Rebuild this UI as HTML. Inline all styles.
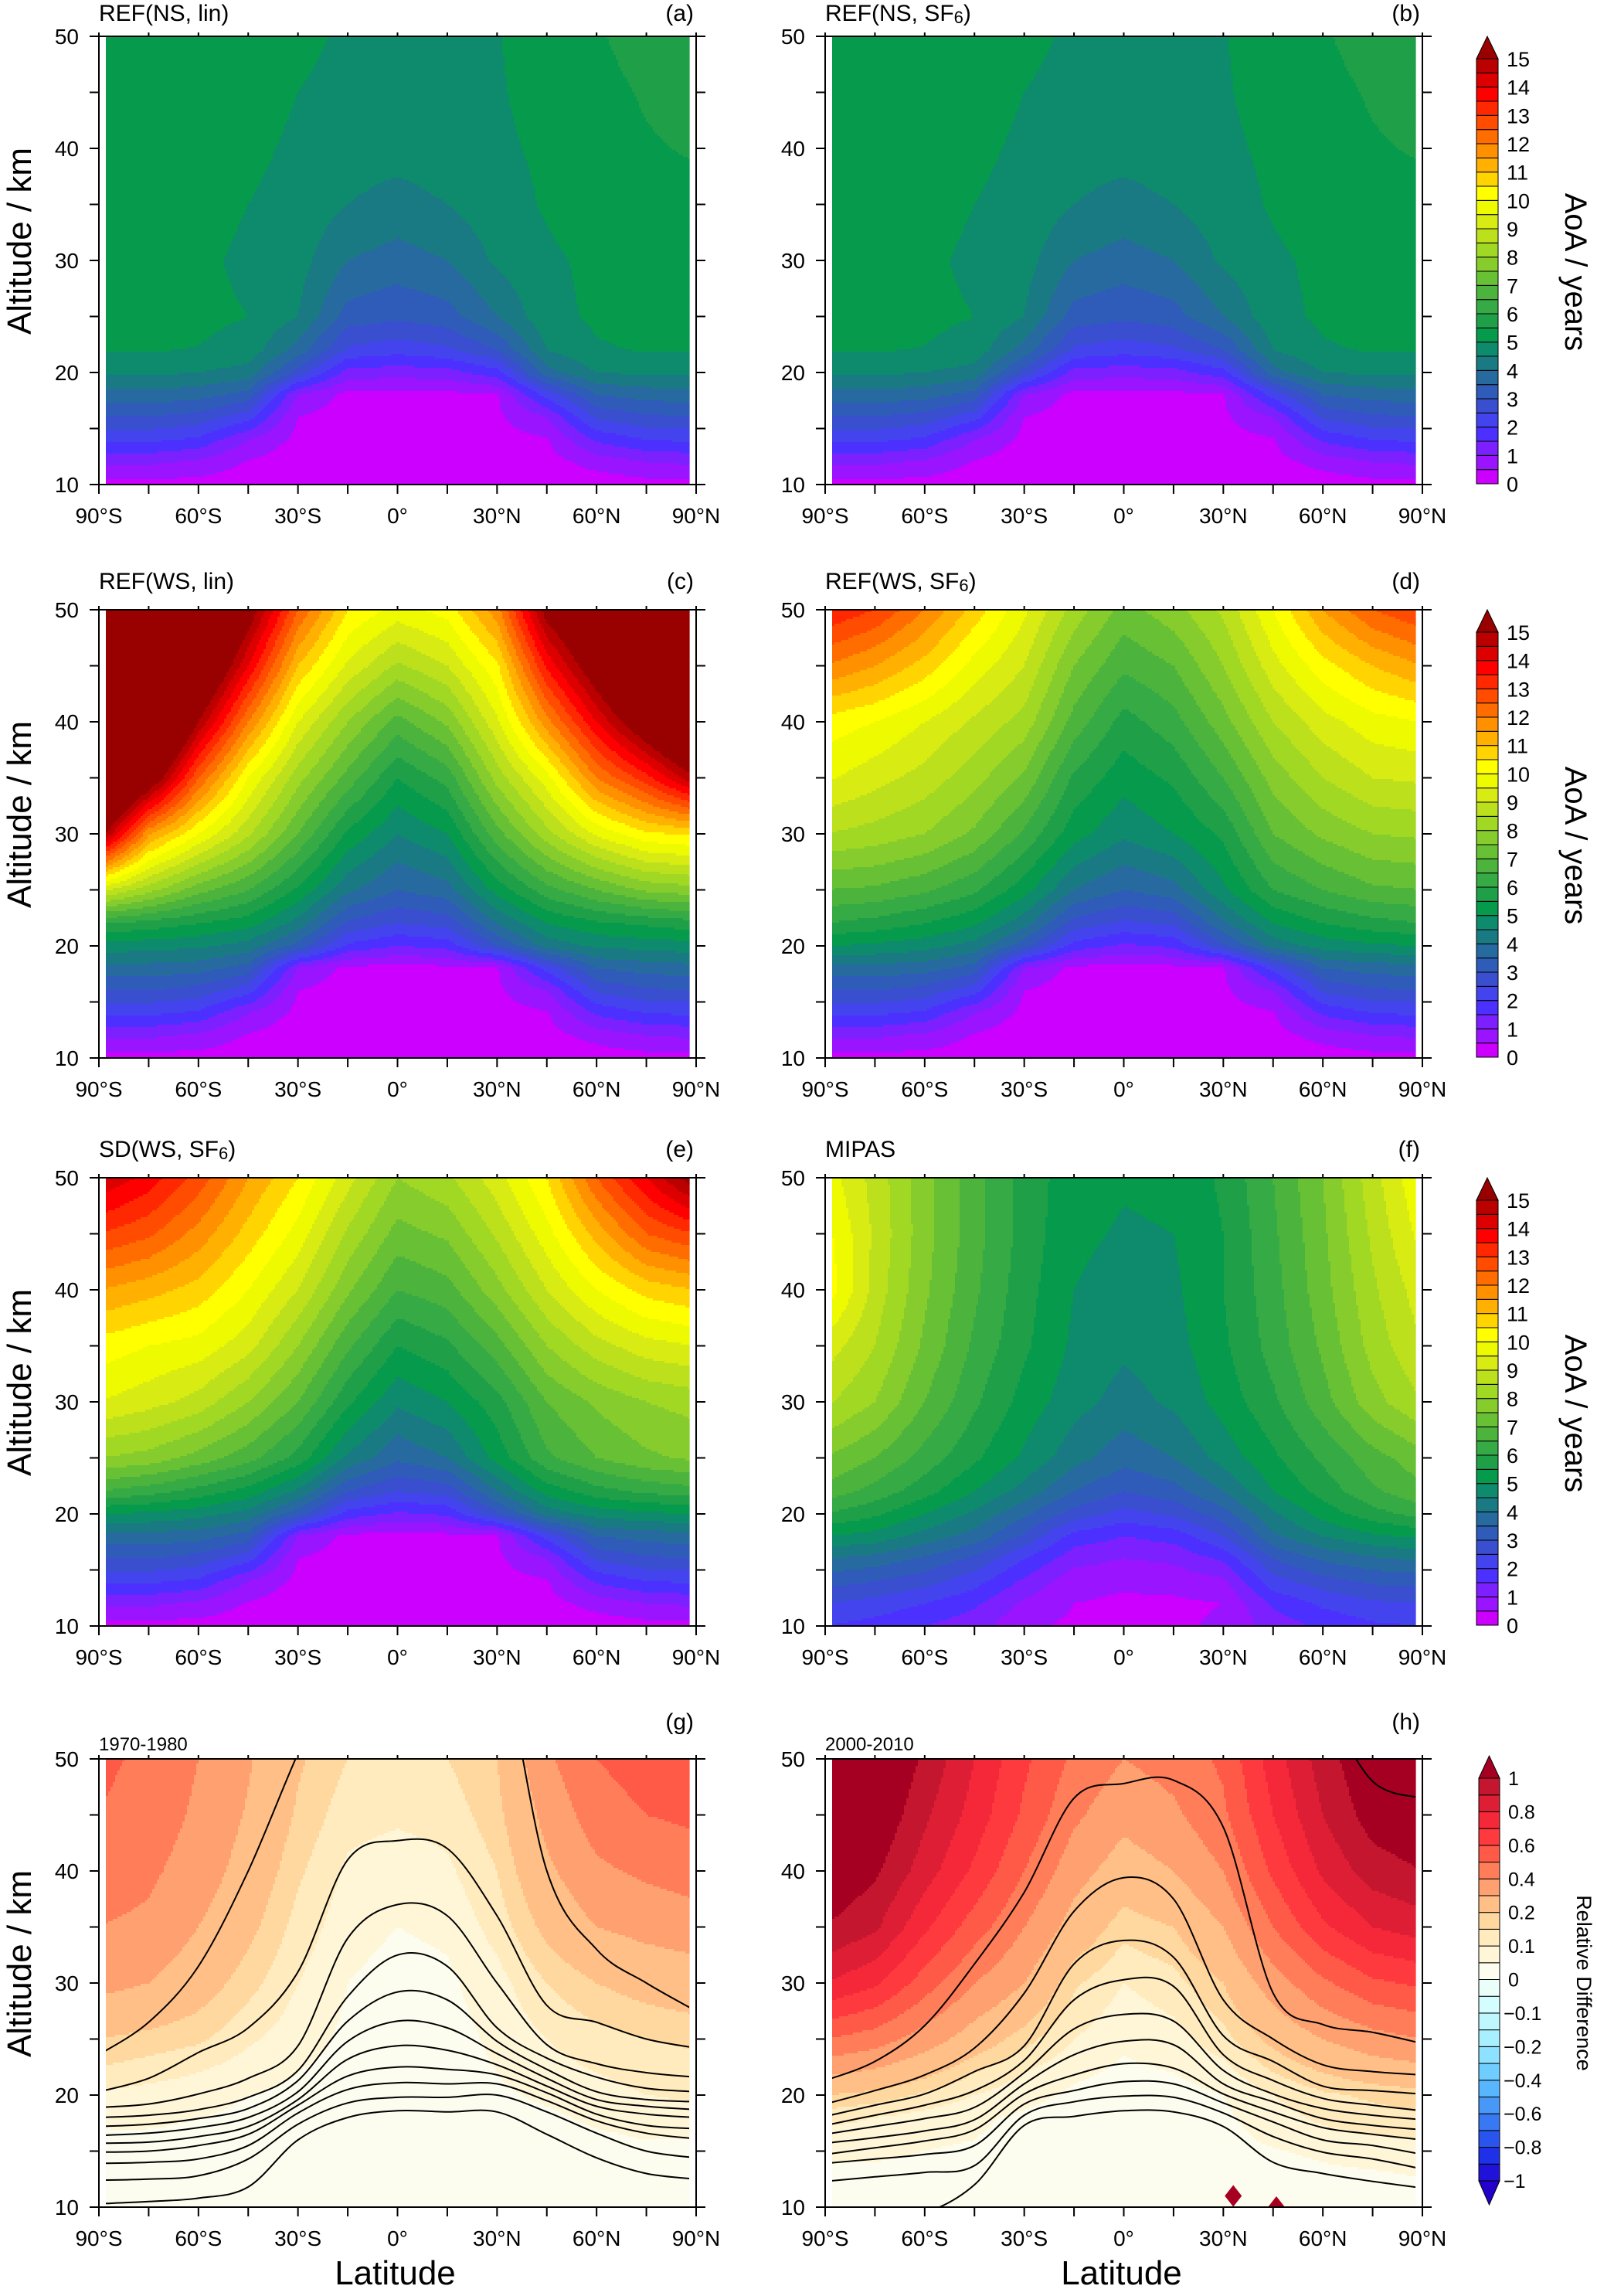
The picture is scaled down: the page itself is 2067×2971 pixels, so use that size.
<!DOCTYPE html>
<html><head><meta charset="utf-8"><style>
body{margin:0;background:#fff;}
svg text{font-family:"Liberation Sans",sans-serif;fill:#000;}
</style></head><body>
<svg id="fig" width="2067" height="2966" xmlns="http://www.w3.org/2000/svg">
<defs id="defs"></defs>
</svg>
<script>
// ---------- data ----------
const lats=[-90,-75,-60,-45,-30,-15,0,15,30,45,60,75,90];
const alts=[10,12,14,16,18,20,22,25,30,35,40,45,50];
const latTickLabels=['90°S','60°S','30°S','0°','30°N','60°N','90°N'];
const altTickLabels=['10','20','30','40','50'];
const aoaTickLabels=['0','1','2','3','4','5','6','7','8','9','10','11','12','13','14','15'];
const rdTickLabels=['\u22121','\u22120.8','\u22120.6','\u22120.4','\u22120.2','\u22120.1','0','0.1','0.2','0.4','0.6','0.8','1'];
const contourLevels=['0.5','1.0','1.5','2.0','2.5','3.0','3.5','4.0','4.5','5.0','5.5'];

const lowRows=[
[0.3,0.3,0.3,0.2,0.1,0.1,0.1,0.1,0.1,0.1,0.2,0.3,0.3],
[1.1,1.1,0.9,0.45,0.2,0.15,0.15,0.15,0.2,0.3,0.7,1.0,1.1],
[2.1,2.1,1.9,1.0,0.35,0.2,0.2,0.2,0.3,0.45,1.6,2.0,2.1],
[3.0,3.0,2.8,2.2,0.5,0.25,0.25,0.25,0.4,1.0,2.6,2.9,3.0],
[3.8,3.8,3.7,3.3,1.0,0.35,0.3,0.35,0.45,2.2,3.5,3.7,3.8]];
const aoaA=lowRows.concat([
[4.6,4.6,4.5,4.3,2.8,1.3,1.2,1.3,1.8,3.8,4.5,4.6,4.6],
[5.03,5.03,4.98,4.8,3.8,2.4,2.2,2.4,3.0,4.5,4.95,5.03,5.03],
[5.2,5.2,5.12,5.0,4.5,3.3,3.1,3.3,4.0,4.85,5.08,5.18,5.2],
[5.3,5.25,5.1,4.9,4.7,4.0,3.8,4.0,4.6,4.92,5.1,5.25,5.3],
[5.3,5.3,5.2,5.0,4.85,4.5,4.3,4.5,4.8,5.05,5.25,5.3,5.35],
[5.3,5.3,5.3,5.1,4.92,4.75,4.7,4.8,4.92,5.08,5.3,5.45,5.55],
[5.3,5.3,5.3,5.2,5.0,4.9,4.85,4.9,4.96,5.15,5.35,5.55,5.7],
[5.3,5.3,5.3,5.25,5.08,4.95,4.95,4.95,4.98,5.2,5.45,5.7,5.8]]);
const aoaB=lowRows.concat([
[4.6,4.6,4.5,4.3,2.8,1.3,1.2,1.3,1.8,3.8,4.5,4.6,4.6],
[5.03,5.03,4.98,4.8,3.8,2.4,2.2,2.4,3.0,4.5,4.95,5.03,5.03],
[5.2,5.2,5.12,5.0,4.5,3.3,3.1,3.3,4.0,4.85,5.08,5.18,5.2],
[5.3,5.25,5.1,4.9,4.7,4.0,3.8,4.0,4.6,4.92,5.1,5.25,5.3],
[5.3,5.3,5.2,5.0,4.85,4.5,4.3,4.5,4.8,5.05,5.25,5.3,5.35],
[5.3,5.3,5.3,5.1,4.92,4.75,4.7,4.8,4.92,5.08,5.3,5.45,5.55],
[5.3,5.3,5.3,5.2,5.0,4.9,4.85,4.9,4.96,5.15,5.35,5.55,5.7],
[5.3,5.3,5.3,5.25,5.08,4.95,4.95,4.95,4.98,5.2,5.45,5.7,5.8]]);
const aoaC=lowRows.concat([
[4.8,4.7,4.6,4.3,3.3,1.9,1.5,1.7,3.0,4.2,4.6,4.7,4.8],
[6.0,5.8,5.5,5.2,4.3,2.9,2.5,2.7,4.0,5.0,5.4,5.6,5.8],
[9.2,8.2,7.2,6.5,5.4,4.1,3.5,3.8,5.2,6.3,7.0,7.6,7.8],
[15.5,11.6,10.0,8.6,7.0,5.4,4.5,5.0,6.8,8.3,9.6,10.4,10.6],
[19,16,12.5,10.0,8.2,6.8,5.5,6.2,8.2,9.8,12.0,13.3,15.0],
[20,19,15.0,12,9.5,8.0,6.8,7.6,9.4,11.8,14.0,16,18],
[20,20,17,14,11.0,9.4,8.4,9.0,10.4,13.6,15.8,18,20],
[20,20,18,15.6,12.5,10.5,9.8,10.2,11.8,15.4,17,19,20]]);
const aoaD=lowRows.concat([
[5.0,4.9,4.7,4.3,3.2,1.8,1.4,1.6,2.9,4.2,4.7,4.9,5.0],
[6.0,5.8,5.5,5.1,4.2,2.8,2.4,2.6,3.9,5.0,5.5,5.8,6.0],
[7.0,6.9,6.6,6.1,5.2,4.0,3.5,3.8,4.9,6.0,6.5,6.9,7.0],
[8.5,8.3,8.0,7.4,6.4,5.2,4.6,5.0,5.6,7.0,7.6,8.0,8.1],
[9.6,9.2,8.8,8.2,7.4,5.9,5.2,5.6,6.5,7.7,8.5,9.0,9.1],
[10.3,10.0,9.5,8.9,8.3,6.8,5.8,6.3,7.3,8.5,9.3,9.8,10.0],
[12.0,11.5,10.8,9.8,9.0,7.5,6.6,7.0,8.0,9.3,10.3,11.0,11.5],
[13.5,13.0,12.0,10.8,9.6,8.3,7.3,7.8,8.6,10.0,11.5,12.5,13.0]]);
const aoaE=lowRows.concat([
[5.0,4.9,4.7,4.3,3.2,1.8,1.4,1.6,2.9,4.2,4.7,4.9,5.0],
[6.5,6.2,5.8,5.3,4.4,3.0,2.5,2.7,4.0,5.2,5.8,6.1,6.3],
[8.0,7.8,7.3,6.7,5.8,4.4,3.6,4.0,5.2,6.4,7.0,7.4,7.6],
[9.5,9.2,8.8,8.0,7.0,5.6,4.6,5.0,5.8,7.0,7.6,8.0,8.2],
[10.3,10.0,9.8,9.2,8.0,6.6,5.5,5.9,6.8,8.0,8.8,9.3,9.5],
[11.5,11.2,10.8,10.0,9.0,7.6,6.5,6.8,7.8,9.0,10.0,10.7,11.0],
[13.0,12.6,11.8,10.8,9.8,8.4,7.3,7.6,8.6,9.8,11.2,12.5,13.0],
[14.5,13.8,12.8,11.5,10.5,9.2,8.0,8.4,9.3,10.5,12.5,14.0,15.5]]);
const aoaF=[
[2.0,1.8,1.5,1.2,0.6,0.4,0.5,0.4,0.6,1.2,1.6,1.9,2.0],
[2.5,2.3,2.0,1.6,0.9,0.5,0.4,0.4,0.5,1.6,2.1,2.4,2.5],
[3.2,3.0,2.7,2.2,1.4,0.7,0.6,0.7,0.9,2.3,2.8,3.1,3.2],
[4.0,3.8,3.4,2.9,2.0,1.2,1.0,1.1,1.6,3.0,3.6,3.9,4.1],
[5.0,4.8,4.3,3.8,2.9,1.8,1.5,1.7,2.5,3.9,4.5,4.9,5.1],
[6.0,5.6,5.0,4.4,3.6,2.8,2.3,2.6,3.3,4.4,5.2,5.8,6.2],
[6.8,6.3,5.7,5.0,4.3,3.5,3.0,3.3,4.0,5.0,5.7,6.4,6.9],
[7.5,7.0,6.3,5.6,4.9,4.2,3.7,4.0,4.7,5.4,6.1,6.8,7.3],
[8.6,8.0,7.0,6.1,5.3,4.7,4.3,4.6,5.2,5.9,6.8,7.8,8.5],
[9.3,8.5,7.4,6.4,5.6,4.9,4.6,4.8,5.4,6.2,7.1,8.2,9.0],
[10.4,8.8,7.6,6.6,5.7,5.0,4.8,4.9,5.5,6.3,7.3,8.4,9.3],
[10.2,8.9,7.7,6.7,5.8,5.1,4.95,5.0,5.5,6.4,7.4,8.6,9.7],
[9.8,8.8,7.7,6.7,5.8,5.2,5.05,5.1,5.6,6.5,7.5,8.8,10.0]];
const rdG=[
[0.02,0.02,0.02,0.02,0.02,0.02,0.02,0.02,0.02,0.02,0.02,0.02,0.02],
[0.02,0.02,0.02,0.02,0.02,0.02,0.02,0.02,0.02,0.02,0.02,0.02,0.03],
[0.03,0.03,0.03,0.02,0.02,0.02,0.02,0.02,0.02,0.02,0.03,0.03,0.04],
[0.04,0.04,0.04,0.03,0.02,0.02,0.02,0.02,0.02,0.03,0.04,0.05,0.05],
[0.06,0.06,0.05,0.04,0.03,0.02,0.02,0.02,0.03,0.04,0.06,0.07,0.08],
[0.09,0.08,0.07,0.05,0.04,0.02,0.02,0.02,0.04,0.06,0.08,0.10,0.11],
[0.14,0.12,0.10,0.07,0.05,0.03,0.02,0.03,0.05,0.08,0.10,0.12,0.13],
[0.20,0.18,0.16,0.11,0.07,0.04,0.03,0.03,0.06,0.10,0.13,0.15,0.16],
[0.33,0.30,0.24,0.17,0.10,0.05,0.03,0.04,0.08,0.15,0.20,0.23,0.25],
[0.40,0.38,0.30,0.22,0.13,0.07,0.05,0.06,0.12,0.22,0.30,0.33,0.35],
[0.45,0.42,0.35,0.26,0.16,0.09,0.07,0.09,0.15,0.28,0.38,0.42,0.45],
[0.50,0.46,0.38,0.29,0.19,0.12,0.11,0.12,0.18,0.33,0.45,0.50,0.52],
[0.52,0.48,0.40,0.31,0.21,0.15,0.14,0.15,0.20,0.38,0.50,0.55,0.58]];
const rdH=[
[0.02,0.02,0.02,0.02,0.02,0.02,0.02,0.02,0.02,0.02,0.02,0.02,0.02],
[0.03,0.03,0.03,0.02,0.02,0.02,0.02,0.02,0.02,0.02,0.03,0.03,0.04],
[0.05,0.05,0.04,0.03,0.02,0.02,0.02,0.02,0.02,0.03,0.05,0.06,0.07],
[0.07,0.07,0.06,0.05,0.03,0.02,0.02,0.02,0.03,0.06,0.08,0.09,0.10],
[0.12,0.10,0.08,0.06,0.04,0.02,0.02,0.02,0.04,0.08,0.11,0.13,0.14],
[0.20,0.18,0.14,0.10,0.07,0.04,0.03,0.03,0.05,0.10,0.14,0.16,0.18],
[0.32,0.28,0.22,0.15,0.10,0.06,0.04,0.05,0.08,0.15,0.20,0.24,0.26],
[0.50,0.45,0.35,0.25,0.17,0.10,0.06,0.08,0.13,0.22,0.30,0.36,0.40],
[0.80,0.72,0.55,0.40,0.30,0.16,0.10,0.13,0.20,0.35,0.48,0.58,0.62],
[1.00,0.92,0.72,0.55,0.40,0.26,0.17,0.20,0.30,0.50,0.68,0.80,0.85],
[1.10,1.02,0.85,0.68,0.50,0.34,0.25,0.30,0.40,0.62,0.82,0.95,1.00],
[1.15,1.10,0.92,0.76,0.58,0.42,0.33,0.38,0.48,0.70,0.90,1.05,1.10],
[1.20,1.15,0.98,0.80,0.62,0.48,0.40,0.44,0.52,0.75,0.95,1.10,1.15]];
// contour altitudes (km) per AoA level, at each latitude
const contourG=[
[10.3,10.5,10.8,11.8,16.0,18.0,18.6,18.5,18.5,16.5,14.4,13.0,12.5],
[12.4,12.5,12.8,14.3,17.4,19.3,19.8,19.8,20.0,18.5,16.6,15.0,14.4],
[13.9,14.0,14.3,15.5,18.4,20.5,21.1,21.0,21.0,19.5,17.7,16.6,16.1],
[14.9,15.0,15.5,16.5,19.1,21.7,22.5,22.3,21.8,20.2,18.3,17.3,17.0],
[15.7,15.8,16.3,17.2,19.6,23.2,24.4,24.0,22.7,20.8,19.0,18.3,18.0],
[16.4,16.6,17.1,18.0,20.3,24.8,26.6,26.0,23.7,21.5,19.6,19.0,18.7],
[17.2,17.4,17.9,18.8,21.3,26.6,29.2,28.5,24.8,22.3,20.3,19.6,19.4],
[18.0,18.2,18.7,19.8,22.2,28.8,32.5,31.5,26.0,23.3,21.6,20.6,20.3],
[18.9,19.2,20.1,21.5,24.4,34.0,37.0,36.0,30.0,24.5,22.8,22.0,21.6],
[20.3,21.5,23.8,26.0,31.0,41.0,42.7,42.0,36.0,28.0,26.5,25.0,24.2],
[23.6,26.5,31.5,40.0,50.5,60,60,60,60,40.0,33.0,30.0,27.5]];
const contourH=[
[9.0,9.2,9.5,12.0,17.3,18.1,18.6,18.5,17.2,14.0,13.0,12.3,11.7],
[12.3,12.7,13.1,13.7,18.2,19.4,19.9,19.8,18.4,16.3,14.9,14.3,13.4],
[13.9,14.3,14.7,15.5,19.2,20.4,21.2,21.0,19.3,17.6,16.0,15.5,14.7],
[14.7,15.3,15.9,16.9,20.1,21.8,22.8,22.4,20.1,18.5,17.1,16.5,16.0],
[15.7,16.2,16.8,17.8,21.0,23.6,24.8,24.5,21.0,19.4,17.9,17.3,16.9],
[16.5,17.2,17.9,18.9,22.0,25.9,27.2,26.6,22.2,20.1,18.8,18.2,17.8],
[17.3,18.2,19.1,20.4,23.1,28.5,30.3,29.7,23.6,21.3,19.7,19.1,18.6],
[18.1,19.1,20.1,22.1,24.4,31.7,33.8,32.3,25.3,23.0,20.8,20.4,20.1],
[19.2,20.4,21.8,24.2,29.1,36.4,39.4,37.5,28.5,25.0,22.7,22.1,21.8],
[21.3,23.0,26.2,31.7,38.1,46.5,47.8,48.1,43.9,29.1,26.3,25.6,24.6],
[60,60,60,60,60,60,60,60,60,60,55,48,46.5]];
const artifactLat=[33,46];
const artifactAlt=[11,10];

// ---------- colour maps ----------
const aoaColors=['#cc00ff','#9b14ff','#7d20ff','#4c30ff','#4444ee','#3a4ed0','#2e5cb8','#266aa0','#1a7a84','#0e8a6c','#059a4c','#1fa048','#36aa44','#4cb43c','#68c034','#86cc2c','#a0d824','#bce01c','#d8ec14','#eefa00','#ffff00','#ffd400','#ffb000','#ff9000','#ff6c00','#ff4c00','#ff2800','#ff0000','#dd0000','#bb0000','#990000'];
const rdBounds=[-1,-0.9,-0.8,-0.7,-0.6,-0.5,-0.4,-0.3,-0.2,-0.15,-0.1,-0.05,0,0.05,0.1,0.15,0.2,0.3,0.4,0.5,0.6,0.7,0.8,0.9,1];
const rdColors=['#2400cc','#2012d8','#1e30e8','#2a54ee','#3878f2','#4898f8','#58b6ff','#6fceff','#8de2ff','#a8efff','#bff7ff','#d4fdff','#ebfffa','#fcfdee','#fff6d8','#ffebbd','#ffd8a0','#ffbf86','#ffa070','#ff7d58','#ff5a48','#ff3a3e','#f5283a','#de1e34','#c4162e','#a50021'];

// ---------- layout ----------
const NS='http://www.w3.org/2000/svg';
const svg=document.getElementById('fig');
const defs=document.getElementById('defs');
const W=773,H=580;
const colX=[128,1068];
const rowY=[47,789,1524,2276];
const titleBase=[27,762,1497,2265];
function mk(tag,parent){const e=document.createElementNS(NS,tag);parent.appendChild(e);return e;}
function xOf(L,lat){return L+(lat+90)/180*W;}
function yOf(T,alt){return T+(50-alt)/40*H;}
function sample(grid,lat,alt){
  let fi=(lat+90)/15; fi=Math.max(0,Math.min(11.9999,fi));
  const i=Math.floor(fi),tx=fi-i;
  let j=0; while(j<alts.length-2&&alt>alts[j+1]) j++;
  let ty=(alt-alts[j])/(alts[j+1]-alts[j]); ty=Math.max(0,Math.min(1,ty));
  const a=grid[j][i]*(1-tx)+grid[j][i+1]*tx, b=grid[j+1][i]*(1-tx)+grid[j+1][i+1]*tx;
  return a*(1-ty)+b*ty;
}
function colorOf(v,cmap){
  if(cmap==='aoa'){let k=Math.floor(v/0.5);k=Math.max(0,Math.min(30,k));return aoaColors[k];}
  if(v<rdBounds[0]) return rdColors[0];
  for(let k=0;k<rdBounds.length-1;k++){ if(v<rdBounds[k+1]) return rdColors[k+1]; }
  return rdColors[rdColors.length-1];
}
function drawField(g,grid,cmap,L,T){
  const x0=L+9,x1=L+W-9,step=3,vstep=3;
  for(let y=T;y<T+H;y+=vstep){
    const h=Math.min(vstep,T+H-y);
    const alt=50-((y+h/2)-T)/H*40;
    let rs=x0,rc=null;
    const flush=(xe)=>{
      const r=mk('rect',g);
      
      
      r.setAttribute('x',rs);r.setAttribute('y',y);r.setAttribute('width',xe-rs+0.6);r.setAttribute('height',h+0.6);r.setAttribute('fill',rc);
    };
    for(let x=x0;x<x1;x+=step){
      const lat=-90+((x+step/2)-L)/W*180;
      const c=colorOf(sample(grid,lat,alt),cmap);
      if(c!==rc){ if(rc!==null) flush(x); rs=x; rc=c; }
    }
    flush(x1);
  }
}
function txt(parent,x,y,s,size,anchor){const t=mk('text',parent);t.setAttribute('x',x);t.setAttribute('y',y);t.setAttribute('font-size',size);if(anchor)t.setAttribute('text-anchor',anchor);t.textContent=s;return t;}
function line(parent,x1,y1,x2,y2,w){const l=mk('line',parent);l.setAttribute('x1',x1);l.setAttribute('y1',y1);l.setAttribute('x2',x2);l.setAttribute('y2',y2);l.setAttribute('stroke','#000');l.setAttribute('stroke-width',w||2);return l;}
function smoothPath(pts){
  let d='M'+pts[0][0].toFixed(1)+','+pts[0][1].toFixed(1);
  for(let i=0;i<pts.length-1;i++){
    const p0=pts[Math.max(0,i-1)],p1=pts[i],p2=pts[i+1],p3=pts[Math.min(pts.length-1,i+2)];
    const c1=[p1[0]+(p2[0]-p0[0])/6,p1[1]+(p2[1]-p0[1])/6];
    const c2=[p2[0]-(p3[0]-p1[0])/6,p2[1]-(p3[1]-p1[1])/6];
    d+='C'+c1[0].toFixed(1)+','+c1[1].toFixed(1)+' '+c2[0].toFixed(1)+','+c2[1].toFixed(1)+' '+p2[0].toFixed(1)+','+p2[1].toFixed(1);
  }
  return d;
}

const panels=[
 {id:'a',grid:aoaA,cmap:'aoa',col:0,row:0,title:['REF(NS, lin)']},
 {id:'b',grid:aoaB,cmap:'aoa',col:1,row:0,title:['REF(NS, SF','6',')']},
 {id:'c',grid:aoaC,cmap:'aoa',col:0,row:1,title:['REF(WS, lin)']},
 {id:'d',grid:aoaD,cmap:'aoa',col:1,row:1,title:['REF(WS, SF','6',')']},
 {id:'e',grid:aoaE,cmap:'aoa',col:0,row:2,title:['SD(WS, SF','6',')']},
 {id:'f',grid:aoaF,cmap:'aoa',col:1,row:2,title:['MIPAS']},
 {id:'g',grid:rdG,cmap:'rd',col:0,row:3,title:['1970-1980'],contours:contourG},
 {id:'h',grid:rdH,cmap:'rd',col:1,row:3,title:['2000-2010'],contours:contourH,artifacts:true}
];

panels.forEach(p=>{
  const L=colX[p.col],T=rowY[p.row];
  const g=mk('g',svg);
  
  
  const cp=mk('clipPath',defs); cp.setAttribute('id','clip-'+p.id);
  const cr=mk('rect',cp); cr.setAttribute('x',L+9);cr.setAttribute('y',T);cr.setAttribute('width',W-18);cr.setAttribute('height',H);
  const fg=mk('g',g);
  
  
  drawField(fg,p.grid,p.cmap,L,T);
  if(p.contours){
    const lg=mk('g',g);
    
    
    lg.setAttribute('clip-path','url(#clip-'+p.id+')');
    p.contours.forEach((row,k)=>{
      const pts=row.map((a,i)=>[xOf(L,lats[i]),yOf(T,a)]);
      const path=mk('path',lg);
      
      
      path.setAttribute('d',smoothPath(pts));path.setAttribute('fill','none');path.setAttribute('stroke','#000');path.setAttribute('stroke-width','2');
    });
    if(p.artifacts){
      artifactLat.forEach((la,i)=>{
        const cx=xOf(L,la),cy=yOf(T,artifactAlt[i]);
        const dm=mk('polygon',lg);
        
        
        dm.setAttribute('points',(cx-11)+','+cy+' '+cx+','+(cy-14)+' '+(cx+11)+','+cy+' '+cx+','+(cy+14));
        dm.setAttribute('fill','#a50021');
      });
    }
  }
  const fr=mk('rect',g);
  
  
  fr.setAttribute('x',L);fr.setAttribute('y',T);fr.setAttribute('width',W);fr.setAttribute('height',H);fr.setAttribute('fill','none');fr.setAttribute('stroke','#000');fr.setAttribute('stroke-width','2');
  const ax=mk('g',g);
  
  
  for(let k=0;k<=12;k++){const x=L+k*W/12;line(ax,x,T+H,x,T+H+12,2);line(ax,x,T,x,T-5,2);}
  for(let k=0;k<=8;k++){const y=T+H-k*H/8;line(ax,L-12,y,L,y,2);line(ax,L+W,y,L+W+12,y,2);}
  latTickLabels.forEach((s,k)=>{
    const t=txt(ax,L+k*W/6,T+H+50,s,28,'middle');
    
    
  });
  altTickLabels.forEach((s,k)=>{
    const t=txt(ax,L-26,T+H-k*H/4+10,s,28,'end');
    
    
  });
  const tt=txt(g,L,titleBase[p.row],p.title[0],p.row===3?24:30,'start');
  
  
  if(p.title.length>1){const s1=mk('tspan',tt);s1.setAttribute('font-size','22');s1.setAttribute('dy','3');s1.textContent=p.title[1];const s2=mk('tspan',tt);s2.setAttribute('dy','-3');s2.textContent=p.title[2];}
  const lb=txt(g,L+W-3,p.row===3?2238:titleBase[p.row],'('+p.id+')',30,'end');
  
  
  if(p.col===0){
    const yt=txt(g,0,0,'Altitude  /  km',44,'middle');
    
    
    yt.setAttribute('transform','translate(40,'+(T+H/2-25)+') rotate(-90)');
  }
  if(p.row===3){
    const xt=txt(g,L+W/2-3,2956,'Latitude',44,'middle');
    
    
  }
});

// ---------- colour bars ----------
[0,1,2].forEach(r=>{
  const T=rowY[r], top=T+29, bot=T+579, bx=1911, bw=28;
  const g=mk('g',svg);
  
  
  const sh=(bot-top)/30;
  for(let k=0;k<30;k++){
    const rc=mk('rect',g);
    
    
    rc.setAttribute('x',bx);rc.setAttribute('y',bot-(k+1)*sh);rc.setAttribute('width',bw);rc.setAttribute('height',sh);rc.setAttribute('fill',aoaColors[k]);rc.setAttribute('stroke','#000');rc.setAttribute('stroke-width','1');
  }
  const tri=mk('polygon',g);
  
  
  tri.setAttribute('points',bx+','+top+' '+(bx+bw/2)+','+T+' '+(bx+bw)+','+top);tri.setAttribute('fill',aoaColors[30]);tri.setAttribute('stroke','#000');tri.setAttribute('stroke-width','1');
  aoaTickLabels.forEach((s,k)=>{
    const t=txt(g,1950,bot-k*2*sh+10,s,27,'start');
    
    
  });
  const ct=txt(g,0,0,'AoA  /  years',40,'middle');
  
  
  ct.setAttribute('transform','translate(2026,'+(T+305)+') rotate(90)');
});
(function(){
  const top=2301,bot=2822,bx=1914,bw=27;
  const g=mk('g',svg);
  
  
  const sh=(bot-top)/24;
  for(let k=0;k<24;k++){
    const rc=mk('rect',g);
    
    
    rc.setAttribute('x',bx);rc.setAttribute('y',bot-(k+1)*sh);rc.setAttribute('width',bw);rc.setAttribute('height',sh);rc.setAttribute('fill',rdColors[k+1]);rc.setAttribute('stroke','#000');rc.setAttribute('stroke-width','1');
  }
  const t1=mk('polygon',g);
  
  
  t1.setAttribute('points',bx+','+top+' '+(bx+bw/2)+',2272 '+(bx+bw)+','+top);t1.setAttribute('fill',rdColors[25]);t1.setAttribute('stroke','#000');
  const t2=mk('polygon',g);
  
  
  t2.setAttribute('points',bx+','+bot+' '+(bx+bw/2)+',2853 '+(bx+bw)+','+bot);t2.setAttribute('fill',rdColors[0]);t2.setAttribute('stroke','#000');
  rdTickLabels.forEach((s,k)=>{
    const t=txt(g,s.charAt(0)==='\u2212'?1946:1952,bot-k*2*sh+9,s,25,'start');
    
    
  });
  const ct=txt(g,0,0,'Relative Difference',27,'middle');
  
  
  ct.setAttribute('transform','translate(2041,2566) rotate(90)');
})();
</script>
</body></html>
